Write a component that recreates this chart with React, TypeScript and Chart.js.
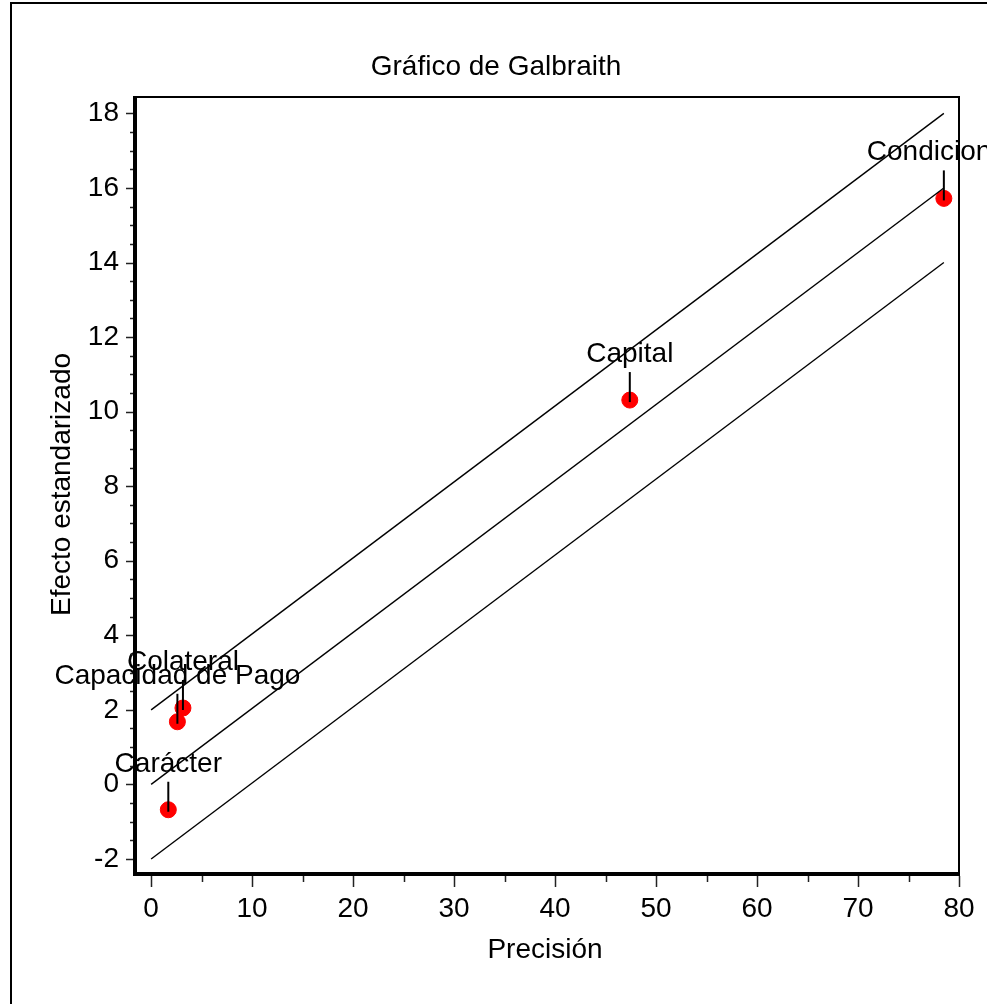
import { useEffect, useRef } from 'react';
import { Chart, registerables } from 'chart.js';

Chart.register(...registerables);

const pointNames = ['Carácter', 'Capacidad de Pago', 'Colateral', 'Capital', 'Condiciones'];
const precision = [1.7, 2.6, 3.15, 47.4, 78.5];
const stdEffect = [-0.68, 1.68, 2.05, 10.31, 15.72];

const lineX = [0, 78.5];
const upperLine = [2, 18];
const centerLine = [0, 16];
const lowerLine = [-2, 14];

const xTicks = [0, 10, 20, 30, 40, 50, 60, 70, 80];
const xMinorTicks = [5, 15, 25, 35, 45, 55, 65, 75];
const yTicks = [-2, 0, 2, 4, 6, 8, 10, 12, 14, 16, 18];
const yMinorTicks = [
  -1.5, -1, -0.5, 0.5, 1, 1.5, 2.5, 3, 3.5, 4.5, 5, 5.5, 6.5, 7, 7.5, 8.5, 9, 9.5,
  10.5, 11, 11.5, 12.5, 13, 13.5, 14.5, 15, 15.5, 16.5, 17, 17.5,
];

const TITLE = 'Gráfico de Galbraith';
const X_TITLE = 'Precisión';
const Y_TITLE = 'Efecto estandarizado';

const FONT = '"Liberation Sans", Arial, sans-serif';
const FS = 28;

const decorPlugin = {
  id: 'decor',
  beforeDraw(chart: any) {
    const { ctx, width, height } = chart;
    ctx.save();
    ctx.fillStyle = '#fff';
    ctx.fillRect(0, 0, width, height);
    ctx.strokeStyle = '#000';
    ctx.lineWidth = 2;
    ctx.beginPath();
    ctx.moveTo(11, height);
    ctx.lineTo(11, 3);
    ctx.lineTo(width, 3);
    ctx.stroke();
    ctx.restore();
  },
  afterDatasetsDraw(chart: any) {
    const { ctx, chartArea } = chart;
    const xs = chart.scales.x;
    const ys = chart.scales.y;
    ctx.save();
    ctx.strokeStyle = '#000';
    ctx.lineWidth = 2;
    ctx.fillStyle = '#000';
    ctx.font = `${FS}px ${FONT}`;
    ctx.textAlign = 'center';
    ctx.textBaseline = 'alphabetic';
    pointNames.forEach((name, i) => {
      const px = xs.getPixelForValue(precision[i]);
      const py = ys.getPixelForValue(stdEffect[i]);
      ctx.beginPath();
      ctx.moveTo(px, py - 28);
      ctx.lineTo(px, py + 2);
      ctx.stroke();
      ctx.fillText(name, px, py - 38);
    });

    const { left, right, top, bottom } = chartArea;
    ctx.strokeStyle = '#000';
    ctx.lineWidth = 2;
    ctx.beginPath();
    ctx.moveTo(left, top);
    ctx.lineTo(right, top);
    ctx.lineTo(right, bottom);
    ctx.stroke();
    ctx.lineWidth = 4;
    ctx.beginPath();
    ctx.moveTo(left - 2, top - 1);
    ctx.lineTo(left - 2, bottom + 2);
    ctx.lineTo(right + 1, bottom + 2);
    ctx.stroke();

    ctx.lineWidth = 1.5;
    ctx.strokeStyle = '#222';
    ctx.beginPath();
    xTicks.forEach((v) => {
      const p = Math.round(xs.getPixelForValue(v)) + 0.5;
      ctx.moveTo(p, bottom + 4);
      ctx.lineTo(p, bottom + 15);
    });
    xMinorTicks.forEach((v) => {
      const p = Math.round(xs.getPixelForValue(v)) + 0.5;
      ctx.moveTo(p, bottom + 4);
      ctx.lineTo(p, bottom + 10);
    });
    yTicks.forEach((v) => {
      const p = Math.round(ys.getPixelForValue(v)) + 0.5;
      ctx.moveTo(left - 4, p);
      ctx.lineTo(left - 11, p);
    });
    yMinorTicks.forEach((v) => {
      const p = Math.round(ys.getPixelForValue(v)) + 0.5;
      ctx.moveTo(left - 4, p);
      ctx.lineTo(left - 7, p);
    });
    ctx.stroke();

    ctx.fillStyle = '#000';
    ctx.font = `${FS}px ${FONT}`;
    ctx.textAlign = 'center';
    ctx.textBaseline = 'alphabetic';
    ctx.fillText(TITLE, 496, 75);
    ctx.fillText(X_TITLE, (left + right) / 2 - 3, 958);
    ctx.translate(70, (top + bottom) / 2);
    ctx.rotate(-Math.PI / 2);
    ctx.fillText(Y_TITLE, 0, 0);
    ctx.restore();
  },
};

export default function App() {
  const ref = useRef<HTMLCanvasElement | null>(null);
  useEffect(() => {
    if (!ref.current) return;
    const lineStyle = {
      type: 'line' as const,
      showLine: true,
      borderColor: '#000',
      borderWidth: 1.4,
      pointRadius: 0,
      fill: false,
    };
    const chart = new Chart(ref.current, {
      type: 'scatter',
      data: {
        datasets: [
          { ...lineStyle, label: 'upper', data: lineX.map((x, i) => ({ x, y: upperLine[i] })) },
          { ...lineStyle, label: 'center', data: lineX.map((x, i) => ({ x, y: centerLine[i] })) },
          { ...lineStyle, label: 'lower', data: lineX.map((x, i) => ({ x, y: lowerLine[i] })) },
          {
            label: 'estudios',
            data: precision.map((x, i) => ({ x, y: stdEffect[i] })),
            pointRadius: 8,
            pointStyle: 'circle',
            backgroundColor: '#ff0000',
            borderColor: '#ff0000',
            borderWidth: 1,
          },
        ],
      },
      options: {
        responsive: false,
        animation: false,
        events: [],
        layout: { padding: { left: 0, top: 97, right: 28, bottom: 0 } },
        plugins: {
          legend: { display: false },
          title: { display: false },
          tooltip: { enabled: false },
        },
        scales: {
          x: {
            type: 'linear',
            min: -1.4,
            max: 80,
            grid: { display: false, drawTicks: false },
            border: { display: false },
            afterBuildTicks: (s: any) => {
              s.ticks = xTicks.map((v) => ({ value: v }));
            },
            afterFit: (s: any) => {
              s.height = 132;
              s.paddingLeft = 0;
              s.paddingRight = 0;
            },
            ticks: {
              autoSkip: false,
              maxRotation: 0,
              padding: 20,
              color: '#000',
              font: { family: FONT, size: FS },
            },
          },
          y: {
            type: 'linear',
            min: -2.35,
            max: 18.44,
            grid: { display: false, drawTicks: false },
            border: { display: false },
            afterBuildTicks: (s: any) => {
              s.ticks = yTicks.map((v) => ({ value: v }));
            },
            afterFit: (s: any) => {
              s.width = 137;
              s.paddingTop = 0;
              s.paddingBottom = 0;
            },
            ticks: {
              autoSkip: false,
              padding: 18,
              color: '#000',
              font: { family: FONT, size: FS },
            },
          },
        },
      },
      plugins: [decorPlugin],
    });
    return () => chart.destroy();
  }, []);
  return (
    <div style={{ position: 'absolute', left: 0, top: 0, width: 987, height: 1004 }}>
      <canvas ref={ref} width={987} height={1004} style={{ display: 'block' }} />
    </div>
  );
}
